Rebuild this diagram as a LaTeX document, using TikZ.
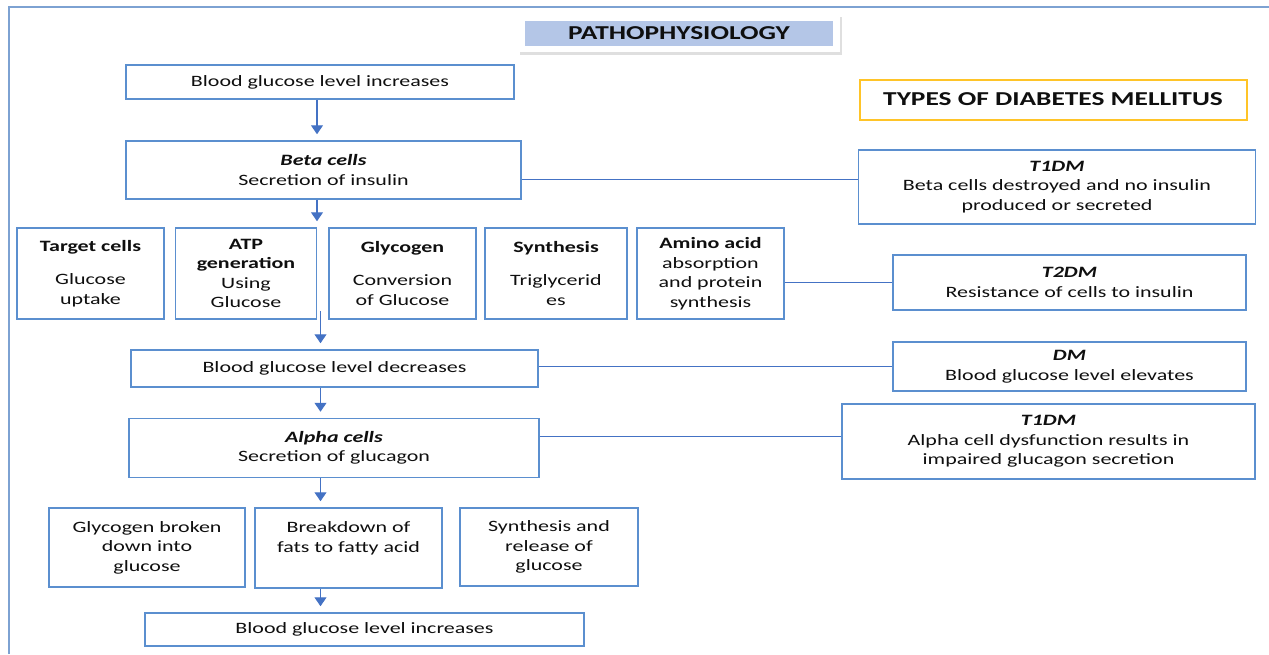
\documentclass[tikz,border=0pt]{standalone}
\usepackage{fontspec}
\setmainfont{Carlito}[FakeStretch=1.39]
\usetikzlibrary{arrows.meta,shadows}

\definecolor{boxblue}{RGB}{91,143,207}
\definecolor{arrowblue}{RGB}{68,114,196}
\definecolor{frameblue}{RGB}{125,162,210}
\definecolor{titleblue}{RGB}{180,198,231}
\definecolor{typeyellow}{RGB}{255,196,40}
\definecolor{textdark}{RGB}{15,15,15}

\tikzset{
  box/.style={draw=boxblue, line width=1.5pt, fill=white, align=center, inner sep=2pt, text=textdark},
  arr/.style={draw=arrowblue, line width=1.2pt, -{Triangle[width=12pt,length=9pt]}, shorten >=6pt},
  link/.style={draw=arrowblue, line width=1pt},
  headfont/.style={font=\fontsize{19.7}{23}\selectfont\bfseries}
}

\begin{document}
\begin{tikzpicture}[x=1pt,y=-1pt, font=\fontsize{15.8}{19.5}\selectfont]
\useasboundingbox (0,0) rectangle (1269,654);

% open frame round the page
\draw[frameblue, line width=1.5pt] (9,654) -- (9,7) -- (1269,7);

% heading
\node[fill=white, minimum width=322pt, minimum height=38pt,
      drop shadow={shadow xshift=2pt, shadow yshift=-3pt, opacity=0.25}] (titleframe) at (679,32.5) {};
\node[fill=titleblue, minimum width=308pt, minimum height=25pt, headfont, text=textdark] (title) at (679,33) {PATHOPHYSIOLOGY};

% insulin side
\node[box, minimum width=388pt, minimum height=34pt] (inc1) at (320,82) {Blood glucose level increases};
\node[box, minimum width=395pt, minimum height=58pt] (beta) at (323.5,170) {\textbf{\textit{Beta cells}}\\Secretion of insulin};

\node[box, minimum width=147pt, minimum height=91pt] (target) at (90.5,273.5) {\textbf{Target cells}\\[14pt]Glucose\\uptake};
\node[box, minimum width=141pt, minimum height=91pt] (atp) at (246,273.5) {\textbf{ATP}\\\textbf{generation}\\Using\\Glucose};
\node[box, minimum width=147pt, minimum height=91pt] (glycogen) at (402.5,273.5) {\textbf{Glycogen}\\[14pt]Conversion\\of Glucose};
\node[box, minimum width=142pt, minimum height=91pt] (synth) at (556,273.5) {\textbf{Synthesis}\\[14pt]Triglycerid\\es};
\node[box, minimum width=147pt, minimum height=91pt] (amino) at (710.5,273.5) {\textbf{Amino acid}\\absorption\\and protein\\synthesis};

\node[box, minimum width=407pt, minimum height=37pt] (dec) at (334.5,368.5) {Blood glucose level decreases};

% glucagon side
\node[box, minimum width=410pt, minimum height=59pt] (alpha) at (334,448) {\textbf{\textit{Alpha cells}}\\Secretion of glucagon};

\node[box, minimum width=196pt, minimum height=79pt] (glybreak) at (147,547.5) {Glycogen broken\\down into\\glucose};
\node[box, minimum width=187pt, minimum height=80pt] (fats) at (348.5,548) {Breakdown of\\fats to fatty acid\\\phantom{g}};
\node[box, minimum width=178pt, minimum height=78pt] (synrel) at (549,547) {Synthesis and\\release of\\glucose};

\node[box, minimum width=439pt, minimum height=33pt] (inc2) at (364.5,629.5) {Blood glucose level increases};

% types of diabetes
\node[draw=typeyellow, line width=2pt, minimum width=387pt, minimum height=40pt, headfont, text=textdark] (types) at (1053,99.5) {TYPES OF DIABETES MELLITUS};
\node[box, minimum width=397pt, minimum height=74pt] (t1beta) at (1057,187) {\textbf{\textit{T1DM}}\\Beta cells destroyed and no insulin\\produced or secreted};
\node[box, minimum width=353pt, minimum height=55pt] (t2) at (1069.5,282.5) {\textbf{\textit{T2DM}}\\Resistance of cells to insulin};
\node[box, minimum width=353pt, minimum height=49pt] (dm) at (1069.5,366.5) {\textbf{\textit{DM}}\\Blood glucose level elevates};
\node[box, minimum width=413pt, minimum height=75pt] (t1alpha) at (1048.5,441.5) {\textbf{\textit{T1DM}}\\Alpha cell dysfunction results in\\impaired glucagon secretion};

% arrows down the column
\coordinate (s1) at (317,0);
\coordinate (s2) at (320.5,0);
\draw[arr] (inc1.south -| s1) -- (beta.north -| s1);
\draw[arr] (beta.south -| s1) -- (atp.north -| s1);
\draw[arr, shorten <=-9pt] (atp.south -| s2) -- (dec.north -| s2);
\draw[arr] (dec.south -| s2) -- (alpha.north -| s2);
\draw[arr] (alpha.south -| s2) -- (fats.north -| s2);
\draw[arr] (fats.south -| s2) -- (inc2.north -| s2);

% links to the types
\coordinate (l1) at (0,179);
\coordinate (l4) at (0,436);
\draw[link] (beta.east |- l1) -- (t1beta.west |- l1);
\draw[link] (amino.east |- t2.west) -- (t2.west);
\draw[link] (dec.east |- dm.west) -- (dm.west);
\draw[link] (alpha.east |- l4) -- (t1alpha.west |- l4);
\end{tikzpicture}
\end{document}
